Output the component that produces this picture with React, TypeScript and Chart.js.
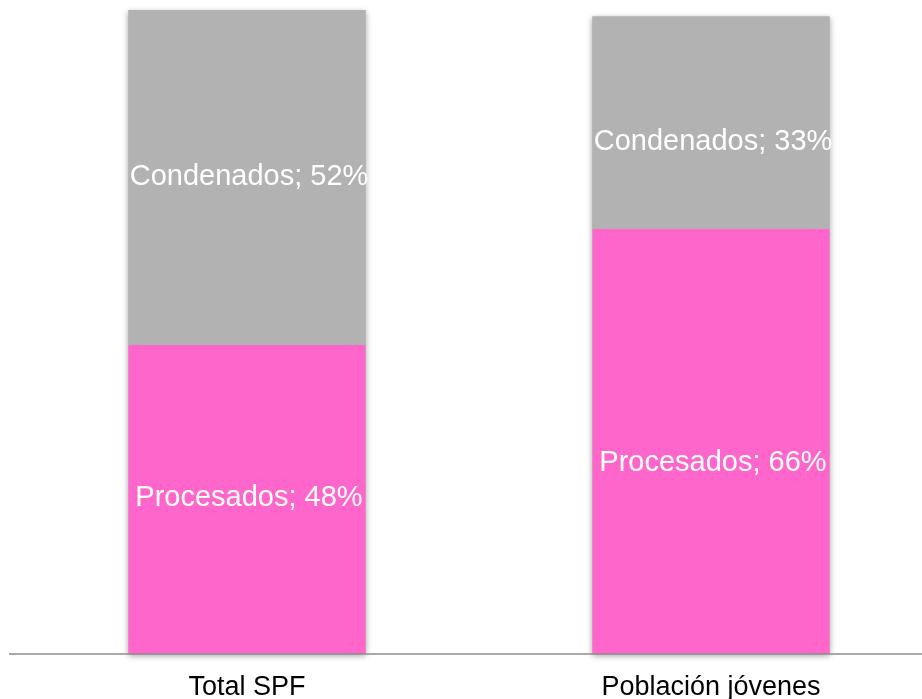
import React, { useEffect, useRef } from "react";
import { Chart, registerables } from "chart.js";

Chart.register(...registerables);

const categories = ["Total SPF", "Población jóvenes"];
const procesados = [48, 66];
const condenados = [52, 33];
const seriesNames = ["Procesados", "Condenados"];

const FONT = "'Liberation Sans', Arial, sans-serif";
const labelNudge = [
  [-1, 0],
  [22, 19],
];

const shadowPlugin = {
  id: "barShadow",
  beforeDatasetsDraw(chart: any) {
    const ctx = chart.ctx;
    const m0 = chart.getDatasetMeta(0);
    const m1 = chart.getDatasetMeta(1);
    ctx.save();
    ctx.shadowColor = "rgba(0,0,0,0.35)";
    ctx.shadowBlur = 6;
    ctx.shadowOffsetX = 0;
    ctx.shadowOffsetY = 2;
    ctx.fillStyle = "#b2b2b2";
    m0.data.forEach((b: any, i: number) => {
      const t = m1.data[i];
      const left = b.x - b.width / 2;
      ctx.fillRect(left, t.y, b.width, b.base - t.y);
    });
    ctx.restore();
  },
  afterDatasetsDraw(chart: any) {
    const ctx = chart.ctx;
    const area = chart.chartArea;
    ctx.save();
    ctx.strokeStyle = "#8c8c8c";
    ctx.lineWidth = 1.5;
    ctx.beginPath();
    ctx.moveTo(9, area.bottom);
    ctx.lineTo(922, area.bottom);
    ctx.stroke();

    ctx.fillStyle = "#ffffff";
    ctx.font = `29px ${FONT}`;
    ctx.textAlign = "center";
    ctx.textBaseline = "middle";
    chart.data.datasets.forEach((ds: any, di: number) => {
      const meta = chart.getDatasetMeta(di);
      meta.data.forEach((el: any, i: number) => {
        const mid = (el.y + el.base) / 2 + labelNudge[i][di];
        ctx.fillText(`${seriesNames[di]}; ${ds.data[i]}%`, el.x + 2, mid);
      });
    });
    ctx.restore();
  },
};

export default function App() {
  const ref = useRef<HTMLCanvasElement | null>(null);
  useEffect(() => {
    document.body.style.margin = "0";
    document.body.style.overflow = "hidden";
    const chart = new Chart(ref.current as HTMLCanvasElement, {
      type: "bar",
      data: {
        labels: categories,
        datasets: [
          {
            label: seriesNames[0],
            data: procesados,
            backgroundColor: "#ff66cc",
            barPercentage: 0.511,
            categoryPercentage: 1,
          },
          {
            label: seriesNames[1],
            data: condenados,
            backgroundColor: "#b2b2b2",
            barPercentage: 0.511,
            categoryPercentage: 1,
          },
        ],
      },
      options: {
        animation: false,
        responsive: false,
        layout: { padding: { top: 10, left: 15, right: 0, bottom: 0 } },
        plugins: { legend: { display: false }, tooltip: { enabled: false } },
        scales: {
          x: {
            stacked: true,
            grid: { display: false, drawTicks: false },
            border: { display: false },
            ticks: {
              color: "#000000",
              font: { family: FONT, size: 27 },
              padding: 17,
              maxRotation: 0,
            },
            afterFit: (scale: any) => {
              scale.height = 45;
            },
          },
          y: {
            stacked: true,
            display: false,
            min: 0,
            max: 100,
          },
        },
      },
      plugins: [shadowPlugin],
    });
    return () => chart.destroy();
  }, []);
  return (
    <div style={{ width: 922, height: 699, overflow: "hidden" }}>
      <canvas ref={ref} width={943} height={699} style={{ display: "block" }} />
    </div>
  );
}
